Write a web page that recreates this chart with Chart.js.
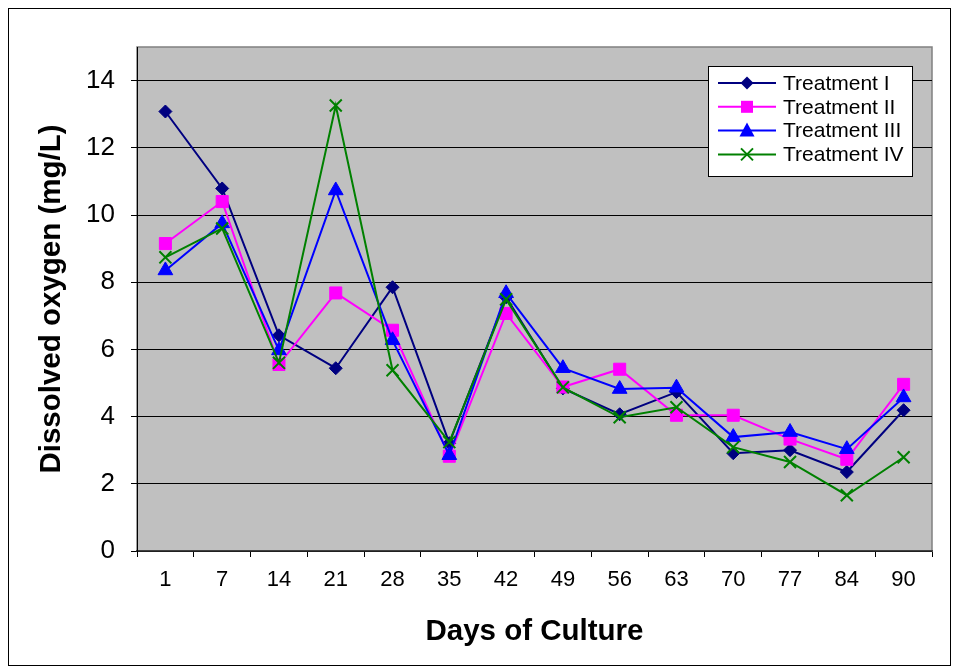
<!DOCTYPE html>
<html>
<head>
<meta charset="utf-8">
<script src="https://cdn.jsdelivr.net/npm/chart.js@4/dist/chart.umd.min.js"></script>
<style>
  html, body { margin: 0; padding: 0; background: #fff; }
  #wrap { width: 959px; height: 670px; }
</style>
</head>
<body>
<div id="wrap"><canvas id="doChart" width="959" height="670"></canvas></div>
<script>
// ---- DATA ----
const days = ['1', '7', '14', '21', '28', '35', '42', '49', '56', '63', '70', '77', '84', '90'];
const treatmentI   = [13.08, 10.79, 6.42, 5.44, 7.85, 3.21, 7.55, 4.84, 4.07, 4.73, 2.91, 3.00, 2.35, 4.19];
const treatmentII  = [9.15, 10.40, 5.55, 7.68, 6.57, 2.82, 7.07, 4.88, 5.41, 4.04, 4.04, 3.33, 2.73, 4.96];
const treatmentIII = [8.35, 9.75, 5.97, 10.73, 6.27, 2.85, 7.67, 5.44, 4.82, 4.86, 3.39, 3.54, 3.03, 4.57];
const treatmentIV  = [8.74, 9.60, 5.60, 13.26, 5.38, 3.24, 7.49, 4.87, 3.98, 4.28, 3.09, 2.65, 1.66, 2.79];
const seriesNames = ['Treatment I', 'Treatment II', 'Treatment III', 'Treatment IV'];
const yTicks = [0, 2, 4, 6, 8, 10, 12, 14];

const FONT = "'Liberation Sans', Arial, sans-serif";

// ---- PLUGINS ----
const frame = {
    id: 'frame',
    beforeDraw(chart) {
        const { ctx, chartArea: a } = chart;
        ctx.save();
        ctx.fillStyle = '#fff';
        ctx.fillRect(0, 0, chart.width, chart.height);
        ctx.strokeStyle = '#000';
        ctx.lineWidth = 1;
        ctx.strokeRect(8.5, 8.5, 942, 657);
        ctx.fillStyle = '#C0C0C0';
        ctx.fillRect(a.left, a.top, a.right - a.left, a.bottom - a.top);
        ctx.strokeStyle = '#808080';
        ctx.lineWidth = 1.5;
        ctx.strokeRect(a.left, a.top, a.right - a.left, a.bottom - a.top);
        ctx.restore();
    }
};

function marker(ctx, style, x, y, color) {
    ctx.fillStyle = color;
    ctx.strokeStyle = color;
    ctx.beginPath();
    if (style === 'rectRot') {
        const r = 6.5;
        ctx.moveTo(x, y - r); ctx.lineTo(x + r, y); ctx.lineTo(x, y + r); ctx.lineTo(x - r, y);
        ctx.closePath(); ctx.fill();
    } else if (style === 'rect') {
        ctx.fillRect(x - 6, y - 6, 12, 12);
    } else if (style === 'triangle') {
        ctx.moveTo(x, y - 8); ctx.lineTo(x + 7.5, y + 6); ctx.lineTo(x - 7.5, y + 6);
        ctx.closePath(); ctx.fill();
    } else {
        const r = 6;
        ctx.lineWidth = 2;
        ctx.moveTo(x - r, y - r); ctx.lineTo(x + r, y + r);
        ctx.moveTo(x + r, y - r); ctx.lineTo(x - r, y + r);
        ctx.stroke();
    }
}

const boxLegend = {
    id: 'boxLegend',
    afterDraw(chart) {
        const ctx = chart.ctx;
        const x0 = 708, y0 = 66, w = 204, h = 110;
        ctx.save();
        ctx.fillStyle = '#fff';
        ctx.fillRect(x0, y0, w, h);
        ctx.strokeStyle = '#000';
        ctx.lineWidth = 1;
        ctx.strokeRect(x0 + 0.5, y0 + 0.5, w, h);
        ctx.font = '21px ' + FONT;
        ctx.textBaseline = 'middle';
        chart.data.datasets.forEach((ds, i) => {
            const y = 83 + i * 23.8;
            ctx.strokeStyle = ds.borderColor;
            ctx.lineWidth = 2;
            ctx.beginPath();
            ctx.moveTo(718, y); ctx.lineTo(776, y);
            ctx.stroke();
            marker(ctx, ds.pointStyle, 747, y, ds.borderColor);
            ctx.fillStyle = '#000';
            ctx.fillText(ds.label, 783, y + 1);
        });
        ctx.restore();
    }
};

// ---- CHART ----
function line(label, data, color, style, radius, order) {
    return {
        label, data,
        borderColor: color,
        backgroundColor: color,
        pointBackgroundColor: color,
        pointBorderColor: color,
        borderWidth: 2,
        pointStyle: style,
        pointRadius: radius,
        pointBorderWidth: style === 'crossRot' ? 2 : 1,
        tension: 0,
        fill: false,
        order
    };
}

new Chart(document.getElementById('doChart'), {
    type: 'line',
    data: {
        labels: days,
        datasets: [
            line(seriesNames[0], treatmentI, '#000080', 'rectRot', 6.5, 4),
            line(seriesNames[1], treatmentII, '#FF00FF', 'rect', 8.5, 3),
            line(seriesNames[2], treatmentIII, '#0000FF', 'triangle', 8.5, 2),
            line(seriesNames[3], treatmentIV, '#008000', 'crossRot', 8.5, 1)
        ]
    },
    options: {
        responsive: false,
        animation: false,
        layout: { padding: { left: 0, top: 47, right: 27, bottom: 0 } },
        plugins: { legend: { display: false }, tooltip: { enabled: false } },
        scales: {
            x: {
                type: 'category',
                offset: true,
                afterFit: s => { s.height = 119; },
                grid: {
                    offset: true,
                    drawOnChartArea: false,
                    drawTicks: true,
                    tickLength: 6,
                    tickColor: '#000',
                    tickWidth: 1
                },
                border: { color: '#404040', width: 1.5 },
                ticks: {
                    color: '#000',
                    padding: 10,
                    maxRotation: 0,
                    autoSkip: false,
                    font: { family: FONT, size: 22 }
                },
                title: {
                    display: true,
                    text: 'Days of Culture',
                    color: '#000',
                    padding: { top: 0, bottom: 20 },
                    font: { family: FONT, size: 29.5, weight: 'bold' }
                }
            },
            y: {
                min: 0,
                max: 15,
                afterFit: s => { s.width = 137; },
                afterBuildTicks: s => { s.ticks = yTicks.map(v => ({ value: v })); },
                grid: {
                    color: '#000',
                    lineWidth: 1,
                    tickLength: 6,
                    tickColor: '#000'
                },
                border: { color: '#000', width: 1 },
                ticks: {
                    color: '#000',
                    padding: 16,
                    font: { family: FONT, size: 26 }
                },
                title: {
                    display: true,
                    text: 'Dissolved oxygen (mg/L)',
                    color: '#000',
                    padding: { top: 34, bottom: 0 },
                    font: { family: FONT, size: 29.5, weight: 'bold' }
                }
            }
        }
    },
    plugins: [frame, boxLegend]
});
</script>
</body>
</html>
